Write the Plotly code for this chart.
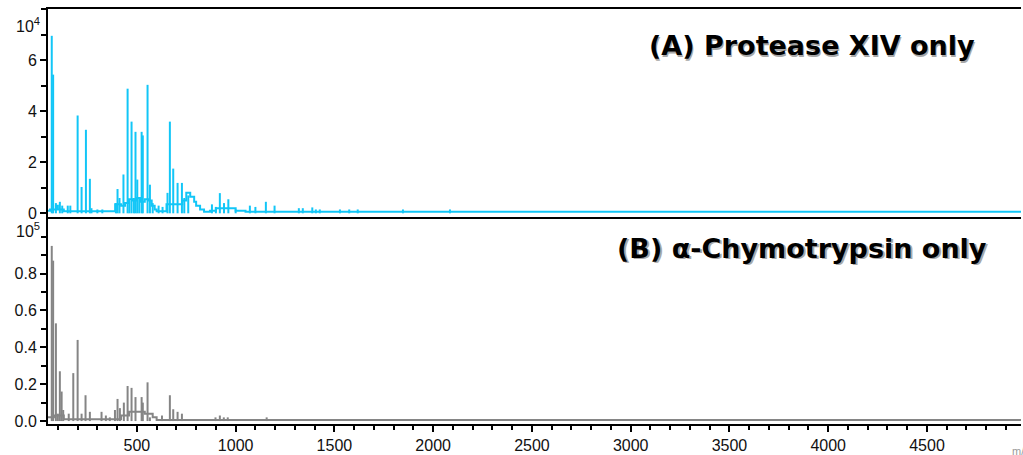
import plotly.graph_objects as go

# ---- data (m/z, intensity in counts) ----
a_mz = [69, 76, 90, 110, 122, 150, 163, 200, 220, 242, 262, 270, 300, 325,
        394, 402, 412, 432, 453, 462, 473, 485, 493, 502, 512, 524, 530, 554,
        566, 580, 610, 630, 655, 667, 684, 706, 728, 740, 760, 880, 900, 920,
        941, 963, 1000, 1072, 1100, 1153, 1197, 1320, 1340, 1388, 1406, 1426,
        1528, 1575, 1618, 1847, 2085]
a_int = [69500, 54300, 4000, 4500, 3000, 3000, 3000, 38300, 10300, 32700, 13500, 2000, 1500, 1500,
         4000, 9500, 6000, 15200, 48800, 5000, 35900, 6000, 31900, 13200, 6000, 31900, 30500, 50300,
         11200, 4000, 3000, 2500, 8000, 35900, 17500, 11900, 11900, 6000, 7000, 3500, 2500, 7900,
         4000, 5500, 1500, 3000, 2500, 4500, 3000, 2000, 2000, 2300, 1500, 1500,
         1500, 1500, 1500, 1500, 1500]
a_base_mz = [50, 60, 90, 100, 130, 380, 390, 420, 440, 460, 480, 500, 520, 540, 560, 575, 590,
             600, 640, 650, 700, 730, 750, 770, 790, 800, 820, 840, 870, 900, 1000, 1050, 5000]
a_base_int = [1000, 1500, 3000, 1500, 800, 800, 3500, 3000, 4000, 5500, 5000, 6000, 4500, 5500, 5000,
              3000, 1500, 800, 800, 3500, 3500, 5000, 8000, 6500, 4500, 3000, 1500, 600, 1000, 2000,
              1000, 600, 600]

b_mz = [69, 76, 90, 100, 110, 119, 127, 155, 178, 200, 220, 240, 262, 321, 343, 363,
        389, 402, 414, 434, 453, 473, 493, 524, 530, 554, 566, 627, 667, 684, 706, 728,
        898, 920, 940, 960, 1157]
b_int = [95000, 87000, 53000, 4000, 27000, 16000, 6000, 4000, 26000, 44000, 4000, 14000, 5000, 5000, 3000, 2000,
         6000, 12000, 7000, 10000, 19000, 18000, 13000, 13000, 10000, 21000, 2000, 3000, 14000, 6400, 5000, 4000,
         2000, 3000, 2000, 2000, 2000]
b_base_mz = [50, 80, 130, 380, 420, 460, 500, 540, 580, 600, 5000]
b_base_int = [2000, 3000, 1000, 1000, 3000, 5000, 5000, 4000, 2000, 600, 400]

a_ticks = [0, 20000, 40000, 60000]
a_ticktext = ["0", "2", "4", "6"]
b_ticks = [0, 20000, 40000, 60000, 80000]
b_ticktext = ["0.0", "0.2", "0.4", "0.6", "0.8"]
x_ticks = [500, 1000, 1500, 2000, 2500, 3000, 3500, 4000, 4500]

CYAN = "#12c6f7"
GRAY = "#858585"


def stems(mz, inten):
    xs, ys = [], []
    for m, h in zip(mz, inten):
        xs += [m, m, None]
        ys += [0, h, None]
    return xs, ys


fig = go.Figure()
ax, ay = stems(a_mz, a_int)
bx, by = stems(b_mz, b_int)
fig.add_trace(go.Scatter(x=a_base_mz, y=a_base_int, mode="lines", line=dict(color=CYAN, width=2, shape="hv"),
                         xaxis="x", yaxis="y", hoverinfo="skip"))
fig.add_trace(go.Scatter(x=ax, y=ay, mode="lines", line=dict(color=CYAN, width=2),
                         xaxis="x", yaxis="y"))
fig.add_trace(go.Scatter(x=b_base_mz, y=b_base_int, mode="lines", line=dict(color=GRAY, width=2, shape="hv"),
                         xaxis="x2", yaxis="y2", hoverinfo="skip"))
fig.add_trace(go.Scatter(x=bx, y=by, mode="lines", line=dict(color=GRAY, width=2),
                         xaxis="x2", yaxis="y2"))

axfont = dict(family="Liberation Sans, Arial, sans-serif", size=16, color="#111")
xr = [50, 4976]

fig.update_layout(
    width=1023, height=455,
    margin=dict(l=48, r=2, t=9, b=31),
    paper_bgcolor="white", plot_bgcolor="white",
    showlegend=False,
    xaxis=dict(domain=[0, 1], range=xr, anchor="y", showticklabels=False, ticks="",
               showgrid=False, zeroline=False, showline=True, linecolor="black", linewidth=2,
               mirror=True),
    yaxis=dict(domain=[0.4988, 1], range=[-1450, 80000], anchor="x", tickvals=a_ticks, ticktext=a_ticktext,
               ticks="outside", ticklen=6, tickwidth=2, tickcolor="black",
               minor=dict(dtick=10000, tick0=0, ticks="outside", ticklen=5, tickwidth=2, tickcolor="black"),
               showgrid=False, zeroline=False, showline=True, linecolor="black", linewidth=2,
               tickfont=axfont),
    xaxis2=dict(domain=[0, 1], range=xr, anchor="y2", tickvals=x_ticks,
                ticks="outside", ticklen=6, tickwidth=2, tickcolor="black",
                minor=dict(dtick=100, tick0=0, ticks="outside", ticklen=4, tickwidth=2, tickcolor="black"),
                showgrid=False, zeroline=False, showline=True, linecolor="black", linewidth=2,
                tickfont=axfont),
    yaxis2=dict(domain=[0, 0.494], range=[-1600, 109600], anchor="x2", tickvals=b_ticks, ticktext=b_ticktext,
                ticks="outside", ticklen=6, tickwidth=2, tickcolor="black",
                minor=dict(dtick=10000, tick0=0, ticks="outside", ticklen=5, tickwidth=2, tickcolor="black"),
                showgrid=False, zeroline=False, showline=True, linecolor="black", linewidth=2,
                tickfont=axfont),
)

titlefont = dict(family="DejaVu Sans, sans-serif", size=27, color="black")
shadowfont = dict(family="DejaVu Sans, sans-serif", size=27, color="#a8a8a8")
for txt, xp, yp in [("<b>(A) Protease XIV only</b>", 0.785, 0.911),
                    ("<b>(B) α-Chymotrypsin only</b>", 0.775, 0.424)]:
    fig.add_annotation(text=txt, x=xp, y=yp, xref="paper", yref="paper", xanchor="center", yanchor="middle",
                       showarrow=False, font=shadowfont, xshift=1.5, yshift=-1.5)
    fig.add_annotation(text=txt, x=xp, y=yp, xref="paper", yref="paper", xanchor="center", yanchor="middle",
                       showarrow=False, font=titlefont)

for txt, yp in [("10<sup>4</sup>", 0.961), ("10<sup>5</sup>", 0.4675)]:
    fig.add_annotation(text=txt, x=-0.006, y=yp, xref="paper", yref="paper", xanchor="right", yanchor="middle",
                       showarrow=False, font=axfont)

fig.add_annotation(text="m/z", x=0.989, y=-0.065, xref="paper", yref="paper", xanchor="left", yanchor="middle",
                   showarrow=False, font=dict(family="Liberation Sans, Arial, sans-serif", size=11, color="#999"))

fig.write_html("out.html", config={"displayModeBar": False},
               post_script="document.body.style.margin='0px';document.body.style.overflow='hidden';")
